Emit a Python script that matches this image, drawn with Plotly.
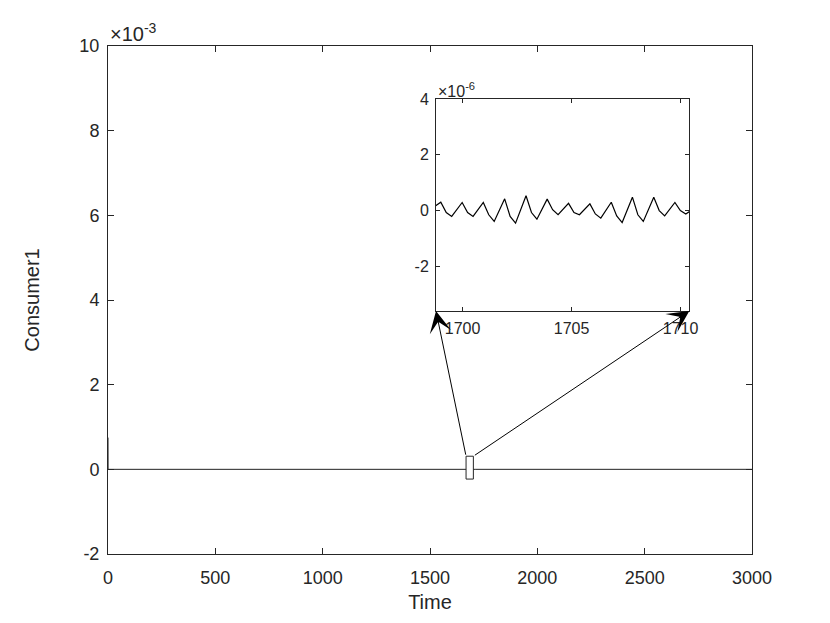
import plotly.graph_objects as go

# ---------------- data ----------------
# inset window samples (time, value in units of 1e-6)
inset_time = [1698.76,
              1699.00, 1699.25, 1699.50,
              1699.98, 1700.23, 1700.48,
              1700.95, 1701.20, 1701.45,
              1701.93, 1702.18, 1702.43,
              1702.91, 1703.16, 1703.41,
              1703.88, 1704.13, 1704.38,
              1704.86, 1705.11, 1705.36,
              1705.84, 1706.09, 1706.34,
              1706.82, 1707.07, 1707.32,
              1707.79, 1708.04, 1708.29,
              1708.77, 1709.02, 1709.27,
              1709.74, 1709.99, 1710.24,
              1710.40]
inset_value_e6 = [0.17,
                  0.30, -0.07, -0.21,
                  0.29, -0.07, -0.21,
                  0.29, -0.15, -0.39,
                  0.42, -0.21, -0.45,
                  0.53, -0.07, -0.31,
                  0.41, 0.03, -0.15,
                  0.26, -0.07, -0.15,
                  0.24, -0.12, -0.27,
                  0.30, -0.19, -0.43,
                  0.48, -0.15, -0.39,
                  0.48, 0.00, -0.19,
                  0.29, 0.00, -0.12,
                  -0.04]
start_time = [0, 0.5]
start_value = [0.75e-3, 0.0]
end_time = [3000]
end_value = [0.0]

main_xticks = [0, 500, 1000, 1500, 2000, 2500, 3000]
main_yticks_e3 = [-2, 0, 2, 4, 6, 8, 10]
inset_xticks = [1700, 1705, 1710]
inset_yticks_e6 = [-2, 0, 2, 4]

main_xrange = [0, 3000]
main_yrange = [-2e-3, 10e-3]
inset_xrange = [1698.78, 1710.4]
inset_yrange = [-3.6e-6, 4e-6]

# zoom box drawn on the main axes
box_x = [1668, 1702]
box_y = [-0.23e-3, 0.31e-3]

consumer_time = start_time + inset_time + end_time
consumer_value = start_value + [v * 1e-6 for v in inset_value_e6] + end_value

# ---------------- layout constants ----------------
# the page body has an 8px margin, so the figure origin sits at (8, 8)
OFF = 8
W, H = 830 - OFF, 623 - OFF
ML, MR, MT, MB = 108 - OFF, 78, 46 - OFF, 69
inset_px = dict(x0=436 - OFF, x1=689.3 - OFF, y0=99 - OFF, y1=311 - OFF)
pw = W - ML - MR
ph = H - MT - MB
inset_dom_x = [(inset_px["x0"] - ML) / pw, (inset_px["x1"] - ML) / pw]
inset_dom_y = [(H - MB - inset_px["y1"]) / ph, (H - MB - inset_px["y0"]) / ph]

AX = "#262626"
FONT = "Liberation Sans, Arial, Helvetica, sans-serif"

fig = go.Figure()
fig.add_trace(go.Scatter(x=consumer_time, y=consumer_value, mode="lines",
                         line=dict(color="#222222", width=1), xaxis="x", yaxis="y",
                         showlegend=False, hoverinfo="skip"))
fig.add_trace(go.Scatter(x=consumer_time, y=consumer_value, mode="lines",
                         line=dict(color="#000000", width=1.2), xaxis="x2", yaxis="y2",
                         showlegend=False, hoverinfo="skip"))

common = dict(showgrid=False, zeroline=False, showline=True, linecolor=AX, linewidth=1,
              ticks="inside", tickcolor=AX, mirror="ticks", tickwidth=1, automargin=False)

fig.update_layout(
    width=W, height=H,
    margin=dict(l=ML, r=MR, t=MT, b=MB),
    paper_bgcolor="white", plot_bgcolor="white",
    font=dict(family=FONT, color=AX),
    xaxis=dict(domain=[0, 1], range=main_xrange, tickvals=main_xticks,
               ticktext=[str(v) for v in main_xticks], ticklen=6, ticklabelstandoff=7,
               tickfont=dict(size=18, family=FONT, color=AX),
               title=dict(text="Time", font=dict(size=20, family=FONT, color=AX), standoff=8),
               anchor="y", **common),
    yaxis=dict(domain=[0, 1], range=main_yrange, tickvals=[v * 1e-3 for v in main_yticks_e3],
               ticktext=[str(v) for v in main_yticks_e3], ticklen=6, ticklabelstandoff=4,
               tickfont=dict(size=18, family=FONT, color=AX),
               title=dict(text="Consumer1", font=dict(size=20, family=FONT, color=AX), standoff=34),
               anchor="x", **common),
    xaxis2=dict(domain=inset_dom_x, range=inset_xrange, tickvals=inset_xticks,
                ticktext=[str(v) for v in inset_xticks], ticklen=4, ticklabelstandoff=3,
                tickfont=dict(size=16, family=FONT, color=AX), anchor="y2", **common),
    yaxis2=dict(domain=inset_dom_y, range=inset_yrange,
                tickvals=[v * 1e-6 for v in inset_yticks_e6],
                ticktext=[str(v) for v in inset_yticks_e6], ticklen=4, ticklabelstandoff=3,
                tickfont=dict(size=16, family=FONT, color=AX), anchor="x2", **common),
)

# exponent labels
fig.add_annotation(xref="paper", yref="paper", x=0, y=1, xanchor="left", yanchor="bottom",
                   text="×10<sup>-3</sup>", showarrow=False, yshift=-1,
                   font=dict(size=20, family=FONT, color=AX))
fig.add_annotation(xref="paper", yref="paper", x=inset_dom_x[0], y=inset_dom_y[1],
                   xanchor="left", yanchor="bottom", text="×10<sup>-6</sup>", showarrow=False,
                   yshift=-3, font=dict(size=16, family=FONT, color=AX))

# zoom box
fig.add_shape(type="rect", xref="x", yref="y", x0=box_x[0], x1=box_x[1], y0=box_y[0], y1=box_y[1],
              line=dict(color=AX, width=1), fillcolor="white", layer="above")

# arrows from the box corners to the inset's bottom corners (inset corners in main data coords)
def to_main_x(p):
    return main_xrange[0] + p * (main_xrange[1] - main_xrange[0])

def to_main_y(p):
    return main_yrange[0] + p * (main_yrange[1] - main_yrange[0])

heads = [(to_main_x(inset_dom_x[0]), to_main_y(inset_dom_y[0])),
         (to_main_x(inset_dom_x[1]), to_main_y(inset_dom_y[0]))]
tails = [(box_x[0], box_y[1]), (box_x[1], box_y[1])]
for (hx, hy), (tx, ty) in zip(heads, tails):
    fig.add_annotation(xref="x", yref="y", axref="x", ayref="y", x=hx, y=hy, ax=tx, ay=ty,
                       text="", showarrow=True, arrowhead=3, arrowsize=3.6, arrowwidth=1,
                       arrowcolor="#000000", standoff=0, startstandoff=0)

fig.write_html("out.html")
